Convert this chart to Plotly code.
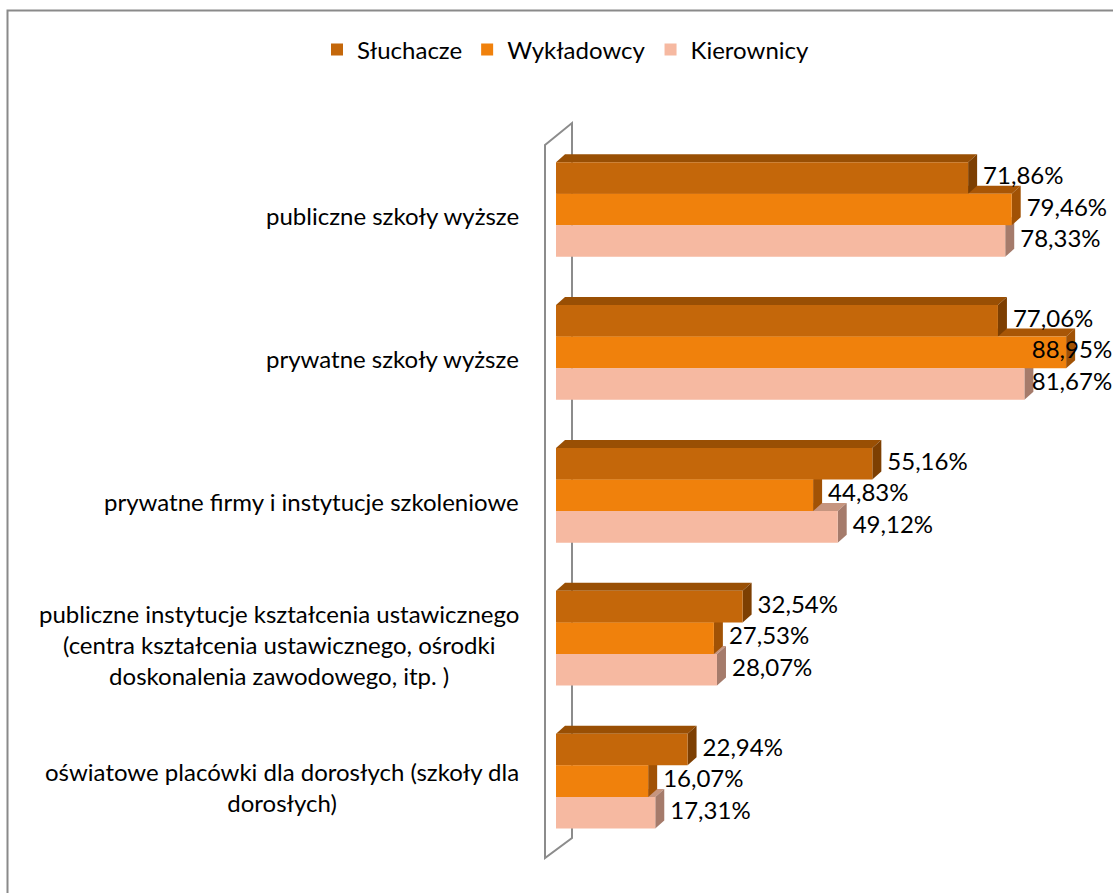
import plotly.graph_objects as go

# ---------------- data ----------------
categories = [
    "publiczne szkoły wyższe",
    "prywatne szkoły wyższe",
    "prywatne firmy i instytucje szkoleniowe",
    "publiczne instytucje kształcenia ustawicznego<br>(centra kształcenia ustawicznego, ośrodki<br>doskonalenia zawodowego, itp. )",
    "oświatowe placówki dla dorosłych (szkoły dla<br>dorosłych)",
]
series_names = ["Słuchacze", "Wykładowcy", "Kierownicy"]
sluchacze = [71.86, 77.06, 55.16, 32.54, 22.94]
wykladowcy = [79.46, 88.95, 44.83, 27.53, 16.07]
kierownicy = [78.33, 81.67, 49.12, 28.07, 17.31]
series_values = [sluchacze, wykladowcy, kierownicy]

# ---------------- styles / layout ----------------
front_colors = ["#C4670A", "#F0810C", "#F6B9A1"]
top_colors = ["#994F04", "#A85606", "#C6957F"]
side_colors = ["#7D3F02", "#A15205", "#A57B6B"]
FONT = "Lato"
FS = 24

W, H = 1113, 893
X0_PX = 556.0          # pixel of 0 %
PX_PER_PCT = 5.735
Y0_PX = 209.5          # pixel of first category centre
PX_PER_CAT = 142.9
BARGAP = 0.337
DX_PX, DY_PX = 9.0, 8.0
LABEL_PAD_PX = 6.0
LABEL_W_PX = 80.0      # approx width of a value label

x_range = [-X0_PX / PX_PER_PCT, (W - X0_PX) / PX_PER_PCT]
y_range = [(H - Y0_PX) / PX_PER_CAT, -Y0_PX / PX_PER_CAT]
dx = DX_PX / PX_PER_PCT
dy = DY_PX / PX_PER_CAT
pad = LABEL_PAD_PX / PX_PER_PCT
label_w = LABEL_W_PX / PX_PER_PCT

ypos = list(range(len(categories)))
bw = (1 - BARGAP) / len(series_names)


def fmt(v):
    return f"{v:.2f}".replace(".", ",") + "%"


fig = go.Figure()

for k, (name, vals) in enumerate(zip(series_names, series_values)):
    fig.add_trace(go.Bar(
        name=name, y=ypos, x=vals, orientation="h",
        marker=dict(color=front_colors[k], line=dict(width=0)),
        hoverinfo="skip",
    ))

xmax = x_range[1] - 0.15
for k, (name, vals) in enumerate(zip(series_names, series_values)):
    lx, lpos = [], []
    for v in vals:
        start = v + dx + pad
        if start + label_w > xmax:      # keep label inside the chart, like the original
            lx.append(xmax)
            lpos.append("middle left")
        else:
            lx.append(start)
            lpos.append("middle right")
    fig.add_trace(go.Scatter(
        x=lx,
        y=[i + (k - 1) * bw for i in ypos],
        mode="text", text=[fmt(v) for v in vals],
        textposition=lpos,
        textfont=dict(family=FONT, size=FS, color="#000000"),
        cliponaxis=False, showlegend=False, hoverinfo="skip",
    ))

shapes = []
# outer chart border (left/top visible)
shapes.append(dict(type="rect", xref="paper", yref="paper",
                   x0=7.5 / W, x1=1.2, y0=1 - 10.5 / H, y1=-0.2,
                   line=dict(color="#8A8A8A", width=2), fillcolor="rgba(0,0,0,0)",
                   layer="below"))
# 3D wall of the category axis
wall = [(545, 145), (572, 123), (572, 838), (545, 858)]
wp = "M " + " L ".join(f"{x / W},{1 - y / H}" for x, y in wall) + " Z"
shapes.append(dict(type="path", xref="paper", yref="paper", path=wp,
                   line=dict(color="#8C8C8C", width=2), fillcolor="rgba(0,0,0,0)",
                   layer="below"))

# 3D faces (top and side) drawn from lowest bar upward
for i in ypos:
    for k in reversed(range(len(series_names))):
        v = series_values[k][i]
        c = i + (k - 1) * bw
        yt, yb = c - bw / 2, c + bw / 2
        top = f"M 0,{yt} L {v},{yt} L {v + dx},{yt - dy} L {dx},{yt - dy} Z"
        side = f"M {v},{yt} L {v},{yb} L {v + dx},{yb - dy} L {v + dx},{yt - dy} Z"
        shapes.append(dict(type="path", xref="x", yref="y", path=top,
                           fillcolor=top_colors[k], line=dict(width=0), layer="below"))
        shapes.append(dict(type="path", xref="x", yref="y", path=side,
                           fillcolor=side_colors[k], line=dict(width=0), layer="below"))

annotations = []
for i, cat in zip(ypos, categories):
    annotations.append(dict(
        text=cat, xref="paper", yref="y", x=521 / W, y=i, yshift=-6,
        xanchor="right", yanchor="middle", align="center", showarrow=False,
        font=dict(family=FONT, size=FS, color="#000000"),
    ))

fig.update_layout(
    width=W, height=H,
    margin=dict(l=0, r=0, t=0, b=0),
    paper_bgcolor="white", plot_bgcolor="white",
    barmode="group", bargap=BARGAP, bargroupgap=0,
    xaxis=dict(range=x_range, visible=False),
    yaxis=dict(range=y_range, visible=False),
    legend=dict(orientation="h", x=566 / W, xanchor="center",
                y=1 - 50 / H, yanchor="middle",
                font=dict(family=FONT, size=FS, color="#000000"),
                traceorder="normal", itemclick=False),
    shapes=shapes, annotations=annotations,
    showlegend=True,
)

fig.write_html("out.html", config={"displayModeBar": False},
               post_script="document.body.style.margin='0';document.body.style.overflow='hidden';")
